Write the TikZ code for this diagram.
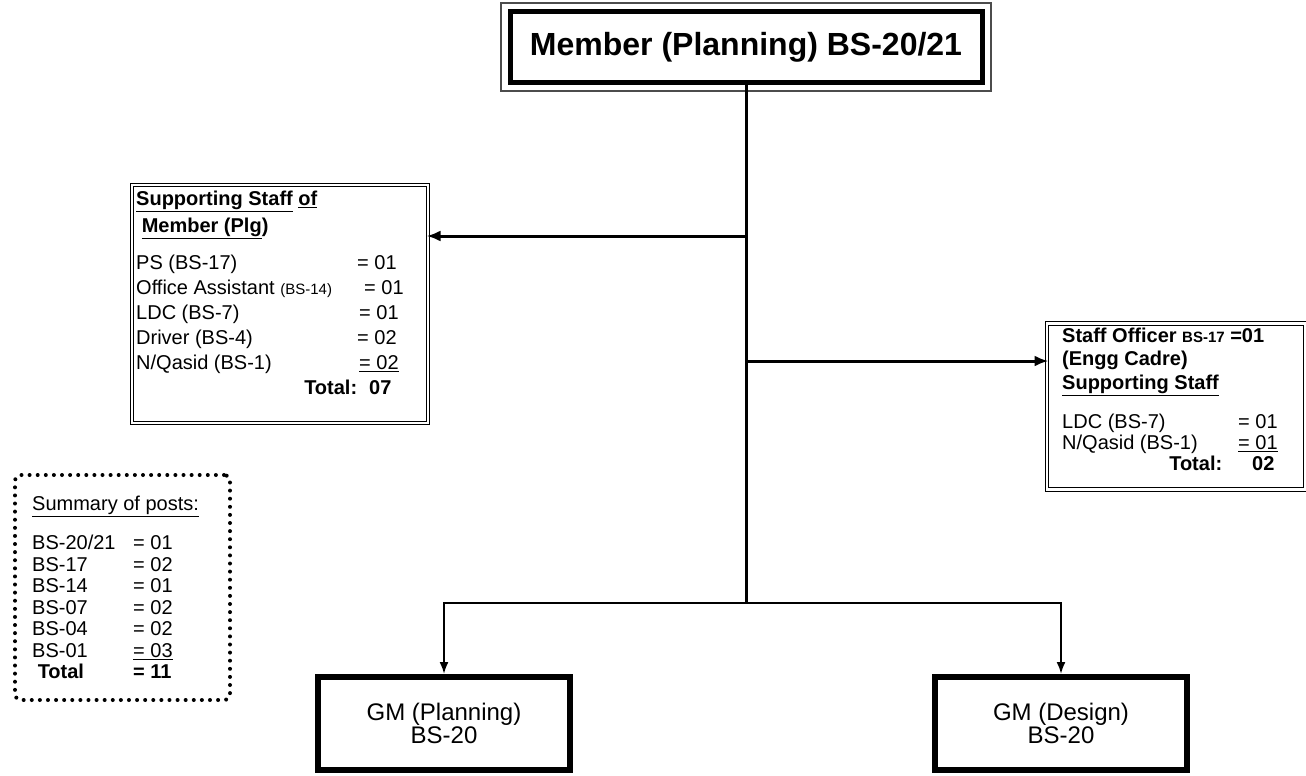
\documentclass[tikz,border=0pt]{standalone}
\usepackage{fontspec}
\setmainfont{Liberation Sans}
\usetikzlibrary{arrows.meta}
\newcommand\bodysize{\fontsize{20}{25}\selectfont}
\newcommand\listsize{\fontsize{20}{21.5}\selectfont}
\newcommand\smallsize{\fontsize{15}{18}\selectfont}
\begin{document}
\begin{tikzpicture}
	[x=1pt,y=-1pt,
	framebox/.style={draw,line width=5pt,minimum width=472pt,minimum height=70pt,inner sep=0pt},
	staffbox/.style={draw,double,line width=1pt,double distance=2.5pt,inner sep=0pt},
	gmbox/.style={draw,line width=6pt,minimum width=246pt,minimum height=92pt,align=center,font=\fontsize{24}{23}\selectfont},
	dotbox/.style={draw,line width=4pt,line cap=round,dash pattern=on 0pt off 8.1pt,rounded corners=6pt,inner sep=0pt},
	textblock/.style={anchor=north west,inner sep=0pt,font=\bodysize,align=left},
	link/.style={line width=3pt},
	branch/.style={line width=2pt},
	>={Latex[length=14pt,width=11pt]}]
	\useasboundingbox (0,0) rectangle (1306,776);
	% boxes
	\node[framebox,font=\fontsize{32}{36}\selectfont\bfseries] (member) at (746,47) {Member (Planning) BS-20/21};
	\draw[line width=1.2pt,black!70] ([shift={(-6.5pt,6.5pt)}]member.north west) rectangle ([shift={(6.5pt,-6.5pt)}]member.south east);
	\node[staffbox,minimum width=296pt,minimum height=238pt] (staff) at (280,304) {};
	\node[staffbox,minimum width=258pt,minimum height=166pt] (officer) at (1176,406.5) {};
	\node[dotbox,minimum width=215pt,minimum height=225pt] (summary) at (122.5,587.5) {};
	\node[gmbox,minimum width=252pt,minimum height=93pt] (gmplan) at (444,723.5) {GM (Planning)\\BS-20};
	\node[gmbox,minimum width=252pt,minimum height=93pt] (gmdes) at (1061,723.5) {GM (Design)\\BS-20};
	\foreach \b in {gmplan,gmdes}
		\draw[line width=3pt] ([yshift=-3pt]\b.north west) -- ([yshift=-3pt]\b.north east);
	% texts
	\node[textblock] (staffText) at (136,187.5) {%
		\begin{tabular}{@{}p{221pt}@{}l@{}}
			\multicolumn{2}{@{}l@{}}{\bfseries\underline{Supporting Staff} \underline{of}}\\[2pt]
			\multicolumn{2}{@{}l@{}}{\bfseries\ \underline{Member (Plg})}\\[12pt]
			PS (BS-17) & = 01\\
			Office Assistant {\smallsize(BS-14)} & \hspace{7pt}= 01\\
			LDC (BS-7) & \hspace{2pt}= 01\\
			Driver (BS-4) & = 02\\
			N/Qasid (BS-1) & \hspace{2pt}\underline{= 02}\\
			\hfill\bfseries Total: & \hspace{12pt}\bfseries 07
		\end{tabular}};
	\node[textblock] (officerText) at (1062,325) {%
		\begin{tabular}{@{}p{176pt}@{}l@{}}
			\multicolumn{2}{@{}l@{}}{\bfseries Staff Officer {\smallsize BS-17} =01}\\[-2pt]
			\multicolumn{2}{@{}l@{}}{\bfseries (Engg Cadre)}\\[-1pt]
			\multicolumn{2}{@{}l@{}}{\bfseries\underline{Supporting Staff}}\\[14pt]
			LDC (BS-7) & = 01\\[-4pt]
			N/Qasid (BS-1) & \underline{= 01}\\[-4pt]
			\hfill\bfseries Total:\hspace{16pt} & \hspace{14pt}\bfseries 02
		\end{tabular}};
	\node[textblock,font=\listsize] (summaryText) at (32,495) {%
		\begin{tabular}{@{}p{101pt}@{}l@{}}
			\multicolumn{2}{@{}l@{}}{\underline{Summary of posts:}}\\[18pt]
			BS-20/21 & = 01\\
			BS-17 & = 02\\
			BS-14 & = 01\\
			BS-07 & = 02\\
			BS-04 & = 02\\
			BS-01 & \underline{= 03}\\
			\bfseries\ Total & \bfseries = 11
		\end{tabular}};
	% connectors
	\coordinate (jl) at (746,236);
	\coordinate (jr) at (746,361);
	\coordinate (jb) at (746,603);
	\draw[link] (member.south) -- (jb);
	\draw[link,->,shorten >=-2pt] (jl) -- (jl -| staff.east);
	\draw[link,->,shorten >=-2pt] (jr) -- (jr -| officer.west);
	\draw[branch,-{Latex[length=12pt,width=9pt]}] (jb) -| (gmplan.north);
	\draw[branch,-{Latex[length=12pt,width=9pt]}] (jb) -| (gmdes.north);
\end{tikzpicture}
\end{document}
